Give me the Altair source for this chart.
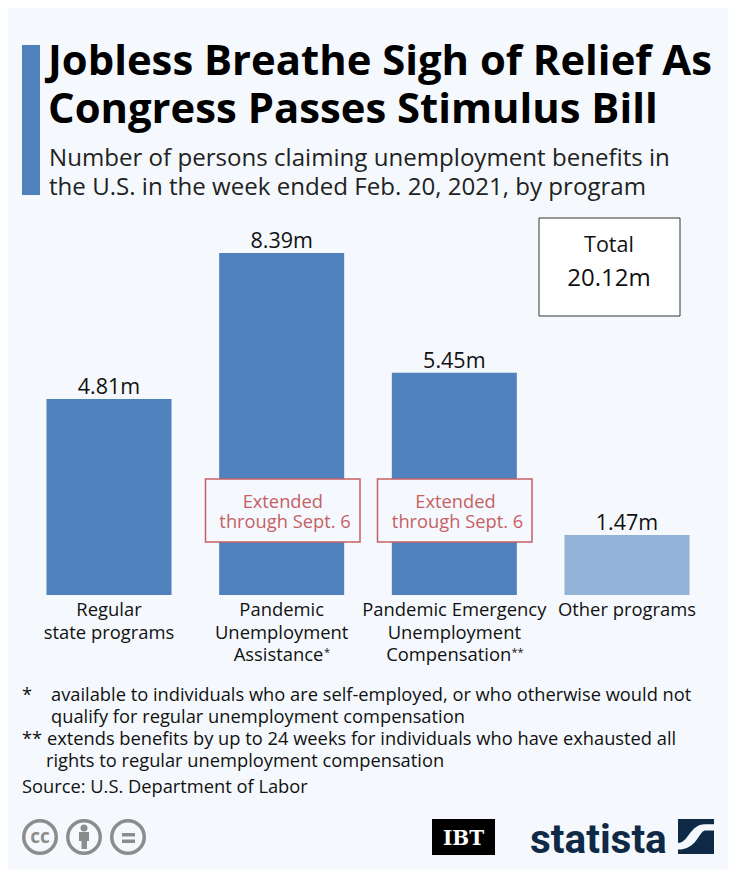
import altair as alt
import pandas as pd

programs = ["Regular state programs", "Pandemic Unemployment Assistance",
            "Pandemic Emergency Unemployment Compensation", "Other programs"]
values = [4.81, 8.39, 5.45, 1.47]
value_labels = ["4.81m", "8.39m", "5.45m", "1.47m"]
groups = ["main", "main", "main", "other"]
category_lines = ["Regular\nstate programs", "Pandemic\nUnemployment",
                  "Pandemic Emergency\nUnemployment", "Other programs"]

BG = "#f5f9fd"
BLUE = "#4f81bc"
LIGHT = "#92b2d8"
RED = "#c65f65"
GREY = "#8c8c8c"
NAVY = "#0f2a47"
FONT = "Open Sans"
W, H = 720, 861
OFF = 8

df = pd.DataFrame({"program": programs, "value": values, "label": value_labels,
                   "group": groups, "cat": category_lines})

x = alt.X("program:N", sort=programs, axis=None,
          scale=alt.Scale(range=[46.5 - OFF, 689.5 - OFF], paddingInner=0.276, paddingOuter=0))
y = alt.Y("value:Q", axis=None,
          scale=alt.Scale(domain=[0, 8.39], range=[595 - OFF, 253 - OFF], nice=False, zero=True))


def txt(s, px, py, size=18, color="#111111", align="left", weight="normal", font=FONT, lh=None, **kw):
    args = dict(font=font, fontSize=size, color=color, align=align, fontWeight=weight,
                baseline="alphabetic", lineBreak="\n", **kw)
    if lh:
        args["lineHeight"] = lh
    return alt.Chart(pd.DataFrame({"t": [s]})).mark_text(**args).encode(
        text="t:N", x=alt.value(px - OFF), y=alt.value(py - OFF))


def box(x0, y0, x1, y1, fill, stroke=None, sw=0):
    kw = dict(fill=fill)
    if stroke:
        kw.update(stroke=stroke, strokeWidth=sw)
    return alt.Chart(pd.DataFrame({"a": [0]})).mark_rect(**kw).encode(
        x=alt.value(x0 - OFF), x2=alt.value(x1 - OFF), y=alt.value(y0 - OFF), y2=alt.value(y1 - OFF))


def ring(cx, cy, d=32.5, sw=3.5):
    return alt.Chart(pd.DataFrame({"a": [0]})).mark_point(
        shape="circle", size=d * d, filled=False, stroke=GREY, strokeWidth=sw, opacity=1).encode(
        x=alt.value(cx - OFF), y=alt.value(cy - OFF))


def dot(cx, cy, d):
    return alt.Chart(pd.DataFrame({"a": [0]})).mark_point(
        shape="circle", size=d * d, filled=True, fill=GREY, opacity=1).encode(
        x=alt.value(cx - OFF), y=alt.value(cy - OFF))


bars = alt.Chart(df).mark_bar().encode(
    x=x, y=y,
    color=alt.Color("group:N", legend=None,
                    scale=alt.Scale(domain=["main", "other"], range=[BLUE, LIGHT])))
bar_labels = alt.Chart(df).mark_text(font=FONT, fontSize=21.5, color="#111111", baseline="alphabetic", dy=-5).encode(
    x=x, y=y, text="label:N")
cat_labels = alt.Chart(df).mark_text(font=FONT, fontSize=18.4, color="#111111", baseline="alphabetic",
                                     lineBreak="\n", lineHeight=22.5).encode(
    x=x, y=alt.value(616 - OFF), text="cat:N")

layers = [
    bars, bar_labels, cat_labels,
    txt("Assistance", 278.5, 661, size=18.4, align="center"),
    txt("Compensation", 448.7, 661, size=18.4, align="center"),
    txt("*", 324, 656, size=11),
    txt("**", 511.5, 656, size=11),
    box(22, 45, 40, 195, BLUE),
    txt("Jobless Breathe Sigh of Relief As", 48, 75, size=41.8, weight="bold", color="#000000"),
    txt("Congress Passes Stimulus Bill", 48, 122.5, size=41.8, weight="bold", color="#000000"),
    txt("Number of persons claiming unemployment benefits in", 49, 165.5, size=24.1, color="#222222"),
    txt("the U.S. in the week ended Feb. 20, 2021, by program", 49, 194.5, size=24.1, color="#222222"),
    box(539, 218, 680, 316, "#ffffff", "#333333", 1),
    txt("Total", 609, 252, size=21.5, align="center"),
    txt("20.12m", 609, 286, size=24, align="center"),
    box(205.5, 479, 360, 542, BG, RED, 1.5),
    box(377.5, 479, 532, 542, BG, RED, 1.5),
    txt("Extended", 282.8, 507.5, size=18.3, color=RED, align="center"),
    txt("through Sept. 6", 285, 527.5, size=18.3, color=RED, align="center"),
    txt("Extended", 455.5, 507.5, size=18.3, color=RED, align="center"),
    txt("through Sept. 6", 457.5, 527.5, size=18.3, color=RED, align="center"),
    txt("*", 22, 701, size=18.3),
    txt("available to individuals who are self-employed, or who otherwise would not", 51, 701, size=18.3),
    txt("qualify for regular unemployment compensation", 51, 723, size=18.3),
    txt("** extends benefits by up to 24 weeks for individuals who have exhausted all", 22, 745, size=18.3),
    txt("rights to regular unemployment compensation", 46, 767, size=18.3),
    txt("Source: U.S. Department of Labor", 22, 793, size=18.3),
    ring(40, 837), txt("cc", 40, 843, size=19, weight="bold", color=GREY, align="center"),
    ring(84, 837), dot(84, 828, 7), box(79, 832, 89, 841, GREY), box(81.5, 841, 87, 849, GREY),
    ring(128, 837), box(122, 833, 135, 836.5, GREY), box(122, 839.5, 135, 843, GREY),
    box(432, 819, 495, 855, "#000000"),
    txt("IBT", 463.5, 845, size=20, weight="bold", color="#ffffff", align="center", font="DejaVu Serif"),
    txt("statista", 530, 853, size=40.5, weight="bold", color=NAVY, font="Roboto"),
    box(678, 819, 714, 854, NAVY),
    alt.Chart(pd.DataFrame({"a": [0]})).mark_point(
        shape="M -1 0.36 C -0.42 0.36 -0.33 -0.68 0.49 -0.68 L 1 -0.68 L 1 -0.34 L 0.49 -0.34 "
              "C 0.13 -0.24 0.04 0.72 -1 0.72 Z",
        size=36 * 36, filled=True, fill=BG, opacity=1).encode(
        x=alt.value(696 - OFF), y=alt.value(836.5 - OFF)),
]

chart = alt.layer(*layers).properties(
    width=W, height=H, padding=0, background=BG,
    autosize=alt.AutoSizeParams(type="none", contains="padding"),
).resolve_scale(x="shared", y="shared").configure_view(stroke=None)

chart.save("out.html", embed_options={"renderer": "svg", "actions": False})
